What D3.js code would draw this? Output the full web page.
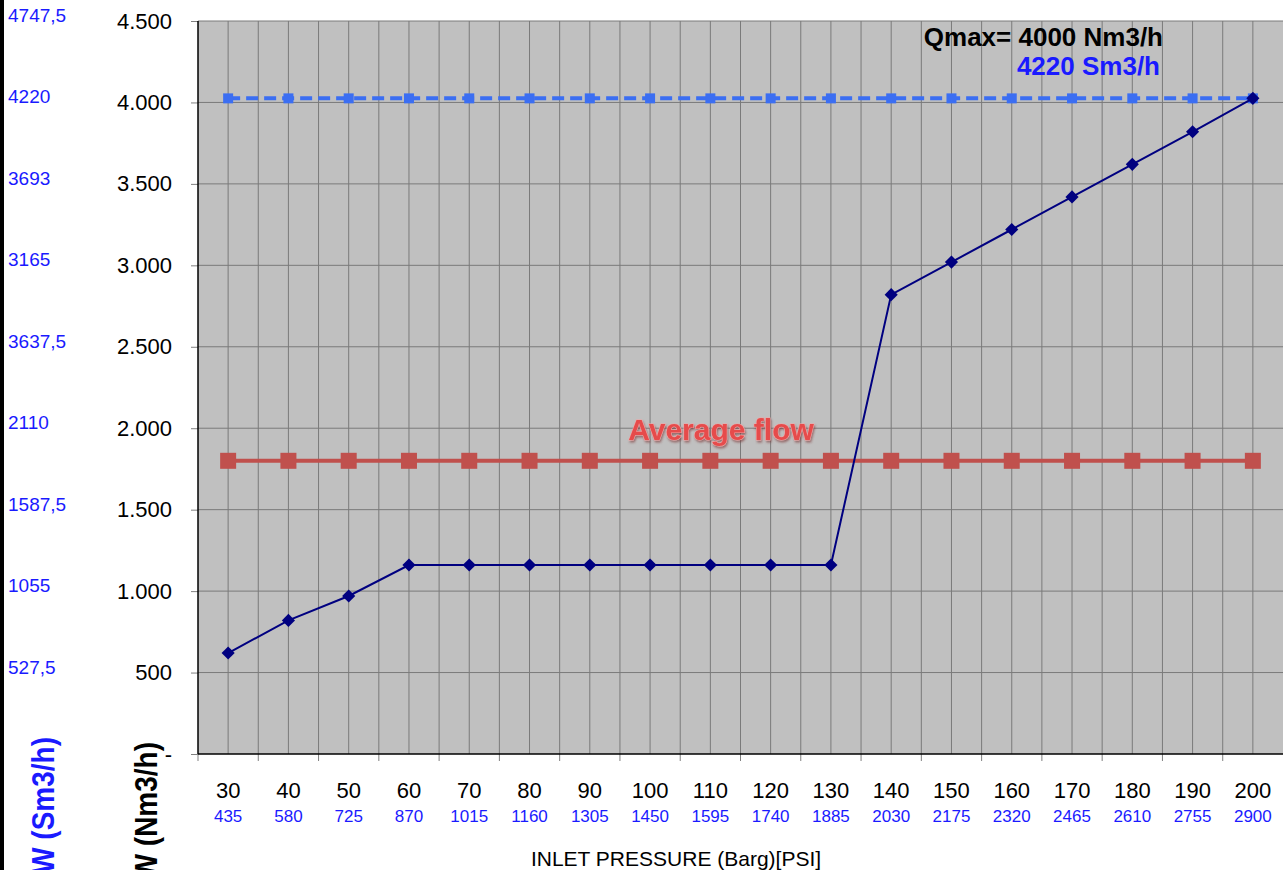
<!DOCTYPE html>
<html>
<head>
<meta charset="utf-8">
<script src="https://cdn.jsdelivr.net/npm/d3@7"></script>
<style>
  body { margin: 0; background: #fff; }
  svg { display: block; font-family: "Liberation Sans", Arial, sans-serif; }
</style>
</head>
<body>
<div id="chart"></div>
<script>
// inlet pressure categories (Barg) and PSI equivalents
let pressures = [30, 40, 50, 60, 70, 80, 90, 100, 110, 120, 130, 140, 150, 160, 170, 180, 190, 200];
let psi = [435, 580, 725, 870, 1015, 1160, 1305, 1450, 1595, 1740, 1885, 2030, 2175, 2320, 2465, 2610, 2755, 2900];

// flow in Nm3/h
let flow = [620, 820, 970, 1160, 1160, 1160, 1160, 1160, 1160, 1160, 1160, 2820, 3020, 3220, 3420, 3620, 3820, 4025];
let qmax = [4025, 4025, 4025, 4025, 4025, 4025, 4025, 4025, 4025, 4025, 4025, 4025, 4025, 4025, 4025, 4025, 4025, 4025];
let average = [1800, 1800, 1800, 1800, 1800, 1800, 1800, 1800, 1800, 1800, 1800, 1800, 1800, 1800, 1800, 1800, 1800, 1800];

let yTicks = [0, 500, 1000, 1500, 2000, 2500, 3000, 3500, 4000, 4500];
// secondary (Sm3/h) labels, top to bottom, as printed
let smLabels = ["4747,5", "4220", "3693", "3165", "3637,5", "2110", "1587,5", "1055", "527,5"];

let W = 1283, H = 870;
let plot = { left: 198, right: 1283, top: 21, bottom: 754 };

let svg = d3.select("#chart")
            .append("svg")
            .attr("width", W)
            .attr("height", H);

let defs = svg.append("defs");
let shadow = defs.append("filter").attr("id", "soft").attr("x", "-10%").attr("y", "-30%")
                 .attr("width", "120%").attr("height", "160%");
shadow.append("feDropShadow")
      .attr("dx", 1).attr("dy", 2).attr("stdDeviation", 1.2)
      .attr("flood-color", "#7a3030").attr("flood-opacity", 0.6);

let x = d3.scaleBand()
          .domain(pressures)
          .range([plot.left, plot.right])
          .padding(0);
let cx = d => x(d) + x.bandwidth() / 2;

let y = d3.scaleLinear()
          .domain([0, 4500])
          .range([plot.bottom, plot.top]);

// plot background
svg.append("rect")
   .attr("x", plot.left)
   .attr("y", plot.top)
   .attr("width", plot.right - plot.left)
   .attr("height", plot.bottom - plot.top)
   .style("fill", "#c0c0c0");

// vertical grid: band edges and centres
let grid = svg.append("g").attr("id", "grid");
let vlines = [];
pressures.forEach(p => { vlines.push(x(p)); vlines.push(cx(p)); });
grid.selectAll("line.v")
    .data(vlines.slice(1))
    .enter()
    .append("line")
    .attr("class", "v")
    .attr("x1", d => d).attr("x2", d => d)
    .attr("y1", plot.top).attr("y2", plot.bottom)
    .style("stroke", "#7a7a7a")
    .style("stroke-width", 1);

grid.selectAll("line.h")
    .data(yTicks.slice(1))
    .enter()
    .append("line")
    .attr("class", "h")
    .attr("x1", plot.left).attr("x2", plot.right)
    .attr("y1", d => y(d)).attr("y2", d => y(d))
    .style("stroke", "#7a7a7a")
    .style("stroke-width", 1);

// y axis (Nm3/h)
let yAxis = d3.axisLeft(y)
              .tickValues(yTicks)
              .tickSize(7)
              .tickPadding(19)
              .tickFormat(d => d === 0 ? "-" : d3.format(",")(d).replace(/,/g, "."));
let ya = svg.append("g")
            .attr("transform", "translate(" + plot.left + ",0)")
            .call(yAxis);
ya.select(".domain").remove();
ya.selectAll("line").style("stroke", "#808080");
ya.selectAll("text")
  .style("font-size", "22px")
  .style("fill", "#000");

svg.append("line")
   .attr("x1", plot.left).attr("x2", plot.left)
   .attr("y1", plot.top).attr("y2", plot.bottom)
   .style("stroke", "#000").style("stroke-width", 1.5);

// x axis
let xAxis = d3.axisBottom(x)
              .tickSize(0)
              .tickPadding(28)
              .tickFormat(d => d);
let xa = svg.append("g")
            .attr("transform", "translate(0," + plot.bottom + ")")
            .call(xAxis);
xa.select(".domain").remove();
xa.selectAll("text").style("font-size", "22px").style("fill", "#000");

// x ticks at band edges
svg.append("g")
   .selectAll("line")
   .data(pressures)
   .enter()
   .append("line")
   .attr("x1", d => x(d)).attr("x2", d => x(d))
   .attr("y1", plot.bottom).attr("y2", plot.bottom + 7)
   .style("stroke", "#808080");

svg.append("line")
   .attr("x1", plot.left).attr("x2", plot.right)
   .attr("y1", plot.bottom).attr("y2", plot.bottom)
   .style("stroke", "#000").style("stroke-width", 1.5);

// PSI labels
svg.append("g")
   .selectAll("text")
   .data(pressures)
   .enter()
   .append("text")
   .attr("x", d => cx(d))
   .attr("y", 822)
   .attr("text-anchor", "middle")
   .style("font-size", "17px")
   .style("fill", "#1a1aff")
   .text((d, i) => psi[i]);

svg.append("text")
   .attr("x", 676)
   .attr("y", 866)
   .attr("text-anchor", "middle")
   .style("font-size", "21px")
   .text("INLET PRESSURE (Barg)[PSI]");

// secondary Sm3/h labels on the far left
svg.append("g")
   .selectAll("text")
   .data(smLabels)
   .enter()
   .append("text")
   .attr("x", 8)
   .attr("y", (d, i) => y(yTicks[yTicks.length - 1 - i]) + 1)
   .style("font-size", "19px")
   .style("fill", "#1a1aff")
   .text(d => d);

svg.append("rect")
   .attr("x", 0).attr("y", 0)
   .attr("width", 4).attr("height", H)
   .style("fill", "#000");

// rotated axis titles (cut at the bottom edge, as in the original)
svg.append("text")
   .attr("transform", "translate(54,737) rotate(-90) scale(1,1.15)")
   .attr("text-anchor", "end")
   .style("font-size", "28px")
   .style("font-weight", "bold")
   .style("fill", "#1a1aff")
   .text("FLOW (Sm3/h)");

svg.append("text")
   .attr("transform", "translate(157,742) rotate(-90) scale(1,1.15)")
   .attr("text-anchor", "end")
   .style("font-size", "28px")
   .style("font-weight", "bold")
   .style("fill", "#000")
   .text("FLOW (Nm3/h)");

// series
let line = d3.line()
             .x((d, i) => cx(pressures[i]))
             .y(d => y(d));

svg.append("path")
   .datum(average)
   .attr("d", line)
   .style("fill", "none")
   .style("stroke", "#c0504d")
   .style("stroke-width", 4);
svg.append("g")
   .selectAll("rect")
   .data(average)
   .enter()
   .append("rect")
   .attr("x", (d, i) => cx(pressures[i]) - 8)
   .attr("y", d => y(d) - 8)
   .attr("width", 16).attr("height", 16)
   .style("fill", "#c0504d");

svg.append("path")
   .datum(qmax)
   .attr("d", line)
   .style("fill", "none")
   .style("stroke", "#3b6ef2")
   .style("stroke-width", 4)
   .style("stroke-dasharray", "12,6");
svg.append("g")
   .selectAll("rect")
   .data(qmax)
   .enter()
   .append("rect")
   .attr("x", (d, i) => cx(pressures[i]) - 5)
   .attr("y", d => y(d) - 5)
   .attr("width", 10).attr("height", 10)
   .style("fill", "#3b6ef2");

svg.append("path")
   .datum(flow)
   .attr("d", line)
   .style("fill", "none")
   .style("stroke", "#000080")
   .style("stroke-width", 2);
svg.append("g")
   .selectAll("path")
   .data(flow)
   .enter()
   .append("path")
   .attr("d", d3.symbol().type(d3.symbolDiamond2).size(110))
   .attr("transform", (d, i) => "translate(" + cx(pressures[i]) + "," + y(d) + ")")
   .style("fill", "#000080");

// annotations
svg.append("text")
   .attr("x", 721)
   .attr("y", 440)
   .attr("text-anchor", "middle")
   .attr("filter", "url(#soft)")
   .style("font-size", "30px")
   .style("font-weight", "bold")
   .style("fill", "#e64c4c")
   .style("stroke", "#f4a6a6")
   .style("stroke-width", 1)
   .style("paint-order", "stroke")
   .text("Average flow");

svg.append("text")
   .attr("x", 1163)
   .attr("y", 46)
   .attr("text-anchor", "end")
   .style("font-size", "26px")
   .style("font-weight", "bold")
   .style("fill", "#000")
   .text("Qmax= 4000 Nm3/h");

svg.append("text")
   .attr("x", 1160)
   .attr("y", 75)
   .attr("text-anchor", "end")
   .style("font-size", "26px")
   .style("font-weight", "bold")
   .style("fill", "#1a1aff")
   .text("4220 Sm3/h");
</script>
</body>
</html>
